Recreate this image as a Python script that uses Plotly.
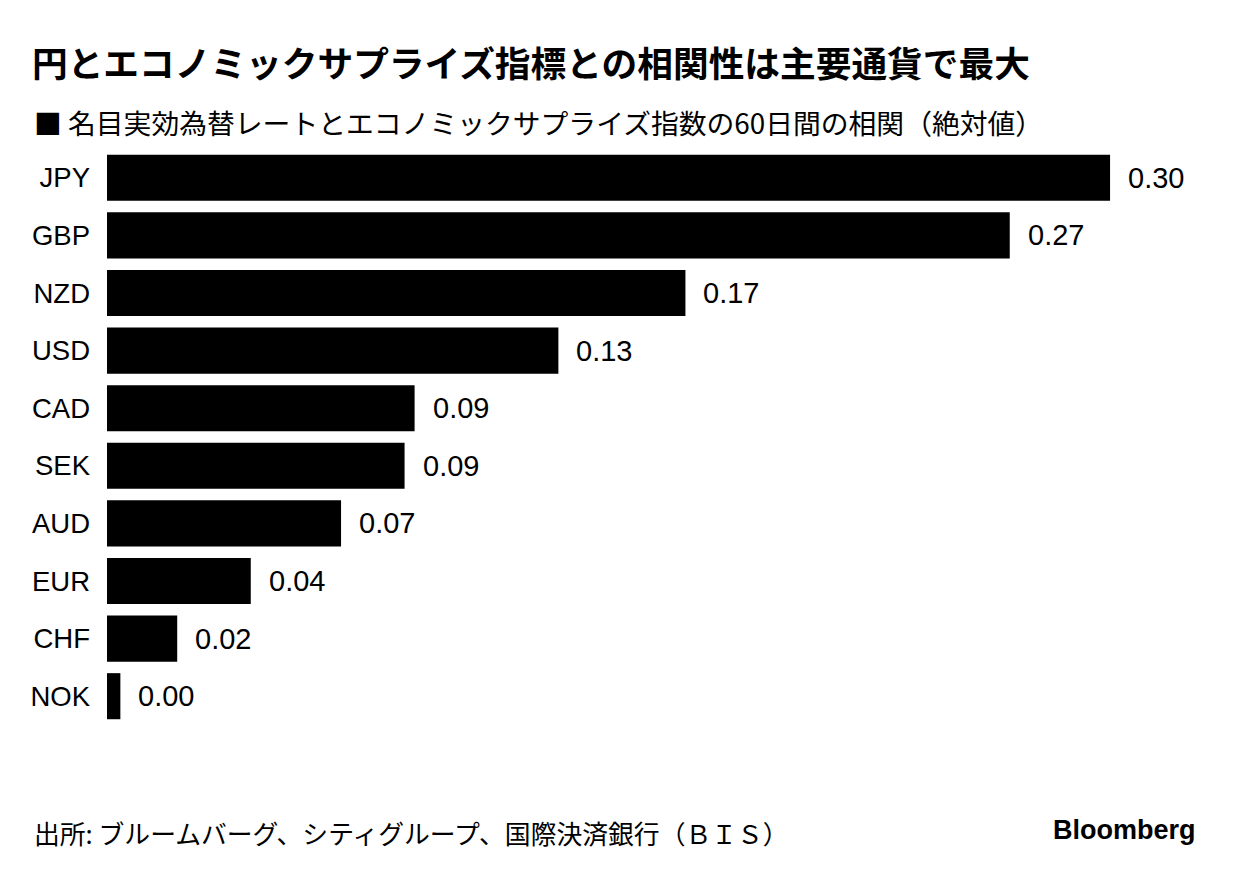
import plotly.graph_objects as go

currencies = ["JPY", "GBP", "NZD", "USD", "CAD", "SEK", "AUD", "EUR", "CHF", "NOK"]
correlations = [0.300, 0.270, 0.173, 0.135, 0.092, 0.089, 0.070, 0.043, 0.021, 0.004]
value_labels = ["0.30", "0.27", "0.17", "0.13", "0.09", "0.09", "0.07", "0.04", "0.02", "0.00"]

title_text = "円とエコノミックサプライズ指標との相関性は主要通貨で最大"
subtitle_text = "■ 名目実効為替レートとエコノミックサプライズ指数の60日間の相関（絶対値）"
source_text = "出所: ブルームバーグ、シティグループ、国際決済銀行（ＢＩＳ）"

latin = "Liberation Sans, Arial, sans-serif"
cjk = "Noto Sans CJK JP, sans-serif"

W, H = 1237, 890
OFF = 8  # page offset of the plot in the browser
ML, MR, MT, MB = 107 - OFF, 45, 149 - OFF, 173

fig = go.Figure()
fig.add_trace(go.Bar(
    y=currencies,
    x=correlations,
    orientation="h",
    marker=dict(color="#000000", line=dict(width=0)),
    hoverinfo="skip",
))

for cur, val, lab in zip(currencies, correlations, value_labels):
    fig.add_annotation(
        x=val, y=cur, xref="x", yref="y",
        text=lab, showarrow=False, xanchor="left", yanchor="middle",
        xshift=16, font=dict(family=latin, size=29, color="#000000"),
    )

fig.update_layout(
    width=W, height=H,
    margin=dict(l=ML, r=MR, t=MT, b=MB),
    paper_bgcolor="#ffffff", plot_bgcolor="#ffffff",
    showlegend=False,
    bargap=0.2,
    xaxis=dict(range=[0, 0.3269], visible=False, fixedrange=True),
    yaxis=dict(
        autorange="reversed", showgrid=False, zeroline=False, showline=False,
        ticks="", ticklabelstandoff=16,
        tickfont=dict(family=latin, size=27.5, color="#000000"),
    ),
)

def paper_x(px):
    return (px - OFF - ML) / (W - ML - MR)

def paper_y(py):
    return (H - MB - (py - OFF)) / (H - MT - MB)

fig.add_annotation(
    x=paper_x(30), y=paper_y(61), xref="paper", yref="paper",
    text="<b>" + title_text + "</b>", showarrow=False,
    xanchor="left", yanchor="middle",
    font=dict(family=cjk, size=35.7, color="#000000"),
)
fig.add_annotation(
    x=paper_x(32), y=paper_y(122), xref="paper", yref="paper",
    text=subtitle_text, showarrow=False,
    xanchor="left", yanchor="middle",
    font=dict(family=cjk, size=27.8, color="#000000"),
)
fig.add_annotation(
    x=paper_x(32), y=paper_y(832), xref="paper", yref="paper",
    text=source_text, showarrow=False,
    xanchor="left", yanchor="middle",
    font=dict(family=cjk, size=25.8, color="#000000"),
)
fig.add_annotation(
    x=paper_x(1198), y=paper_y(830), xref="paper", yref="paper",
    text="<b>Bloomberg</b>", showarrow=False,
    xanchor="right", yanchor="middle",
    font=dict(family=latin, size=27, color="#000000"),
)

fig.write_html("out.html")
